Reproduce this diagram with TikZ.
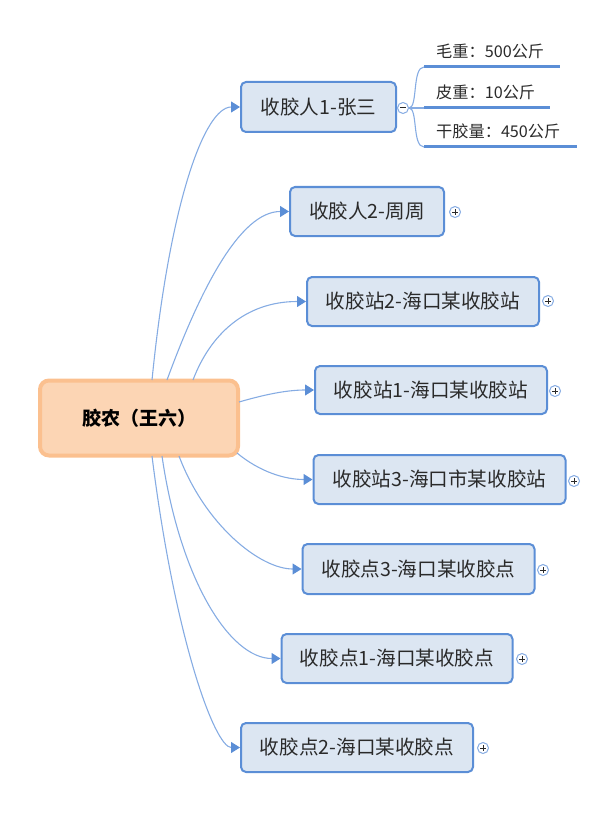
\documentclass[tikz,border=0pt]{standalone}
\usepackage{fontspec}
\setmainfont{Noto Sans CJK SC}
\usetikzlibrary{arrows.meta}
\definecolor{nodefill}{HTML}{DCE6F2}
\definecolor{nodeborder}{HTML}{5B8ED6}
\definecolor{linecol}{HTML}{86ACE3}
\definecolor{centerfill}{HTML}{FCD5B4}
\definecolor{centerborder}{HTML}{FBC08F}
\definecolor{txt}{HTML}{2A2A2A}
\tikzset{
  topicbox/.style={draw=nodeborder, fill=nodefill, line width=2pt, rounded corners=5pt,
    inner sep=0pt, text=txt, font=\fontsize{19.6}{23}\selectfont},
  centerbox/.style={draw=centerborder, fill=centerfill, line width=4pt, rounded corners=9pt,
    inner sep=0pt, text=black, font=\fontsize{19}{22}\selectfont\bfseries},
  conn/.style={draw=linecol, line width=1.1pt, -{Triangle[length=9pt,width=11pt,fill=nodeborder,color=nodeborder]}},
  plusbox/.style={circle, draw=linecol, fill=white, line width=1pt, minimum size=11pt, inner sep=0pt},
  subtxt/.style={anchor=south west, inner xsep=12pt, inner ysep=0pt, minimum height=30pt,
    align=left, text=txt, font=\fontsize{16.2}{19}\selectfont},
  underl/.style={draw=nodeborder, line width=3pt},
  brl/.style={draw=linecol, line width=1.1pt},
}
\begin{document}
\begin{tikzpicture}[x=1pt,y=-1pt]
\useasboundingbox (0,0) rectangle (605,813);
% center
\node[centerbox, minimum width=198pt, minimum height=75pt] (c) at (139,418) {胶农（王六）};
% topics
\node[topicbox, minimum width=155pt, minimum height=50pt] (n1) at (318.5,107) {收胶人1-张三};
\node[topicbox, minimum width=154pt, minimum height=49pt] (n2) at (367,211.5) {收胶人2-周周};
\node[topicbox, minimum width=232pt, minimum height=49pt] (n3) at (423,301.5) {收胶站2-海口某收胶站};
\node[topicbox, minimum width=232pt, minimum height=48pt] (n4) at (431,390) {收胶站1-海口某收胶站};
\node[topicbox, minimum width=252pt, minimum height=49pt] (n5) at (439.5,479.5) {收胶站3-海口市某收胶站};
\node[topicbox, minimum width=232pt, minimum height=50pt] (n6) at (418.5,569) {收胶点3-海口某收胶点};
\node[topicbox, minimum width=231pt, minimum height=49pt] (n7) at (397,658.5) {收胶点1-海口某收胶点};
\node[topicbox, minimum width=232pt, minimum height=49pt] (n8) at (357,747.5) {收胶点2-海口某收胶点};
% anchor coordinates on center node
\coordinate (c1) at (152,380);
\coordinate (c2) at (167,380);
\coordinate (c3) at (193,380);
\coordinate (c4) at (239,402);
\coordinate (c5) at (237,453);
\coordinate (c6) at (179,456);
\coordinate (c7) at (162,456);
\coordinate (c8) at (152,456);
% connectors
\draw[conn] (c1) .. controls (170,200) and (205,107) .. (n1.west);
\draw[conn] (c2) .. controls (200,290) and (240,211.5) .. (n2.west);
\draw[conn] (c3) .. controls (210,335) and (245,301.5) .. (n3.west);
\draw[conn] (c4) .. controls (270,393) and (290,390) .. (n4.west);
\draw[conn] (c5) .. controls (260,472) and (285,479.5) .. (n5.west);
\draw[conn] (c6) .. controls (205,525) and (260,569) .. (n6.west);
\draw[conn] (c7) .. controls (180,580) and (230,658.5) .. (n7.west);
\draw[conn] (c8) .. controls (175,640) and (215,747.5) .. (n8.west);
% plus markers
\foreach \n/\px/\py in {p2/455/212, p3/548/301, p4/555/391, p5/574/481, p6/543/570, p7/522/659, p8/483/748}{
  \node[plusbox] (\n) at (\px,\py) {};
  \draw[txt, line width=1pt] ([xshift=-2.6pt]\n.center) -- ([xshift=2.6pt]\n.center)
                               ([yshift=-2.6pt]\n.center) -- ([yshift=2.6pt]\n.center);
}
% sub topics of n1
\node[subtxt, minimum width=136pt, text width=112pt] (s1) at (424,67) {毛重：500公斤};
\node[subtxt, minimum width=126pt, text width=102pt] (s2) at (424,108) {皮重：10公斤};
\node[subtxt, minimum width=153pt, text width=129pt] (s3) at (424,147) {干胶量：450公斤};
\draw[underl] (s1.south west) -- (s1.south east);
\draw[underl] (s2.south west) -- (s2.south east);
\draw[underl] (s3.south west) -- (s3.south east);
\node[plusbox] (m1) at (403,108) {};
\draw[txt, line width=1pt] ([xshift=-2.6pt]m1.center) -- ([xshift=2.6pt]m1.center);
\draw[brl] (m1.east) .. controls (418,108) and (412,67) .. (s1.south west);
\draw[brl] (m1.east) -- (s2.south west);
\draw[brl] (m1.east) .. controls (418,108) and (412,147) .. (s3.south west);
\end{tikzpicture}
\end{document}
